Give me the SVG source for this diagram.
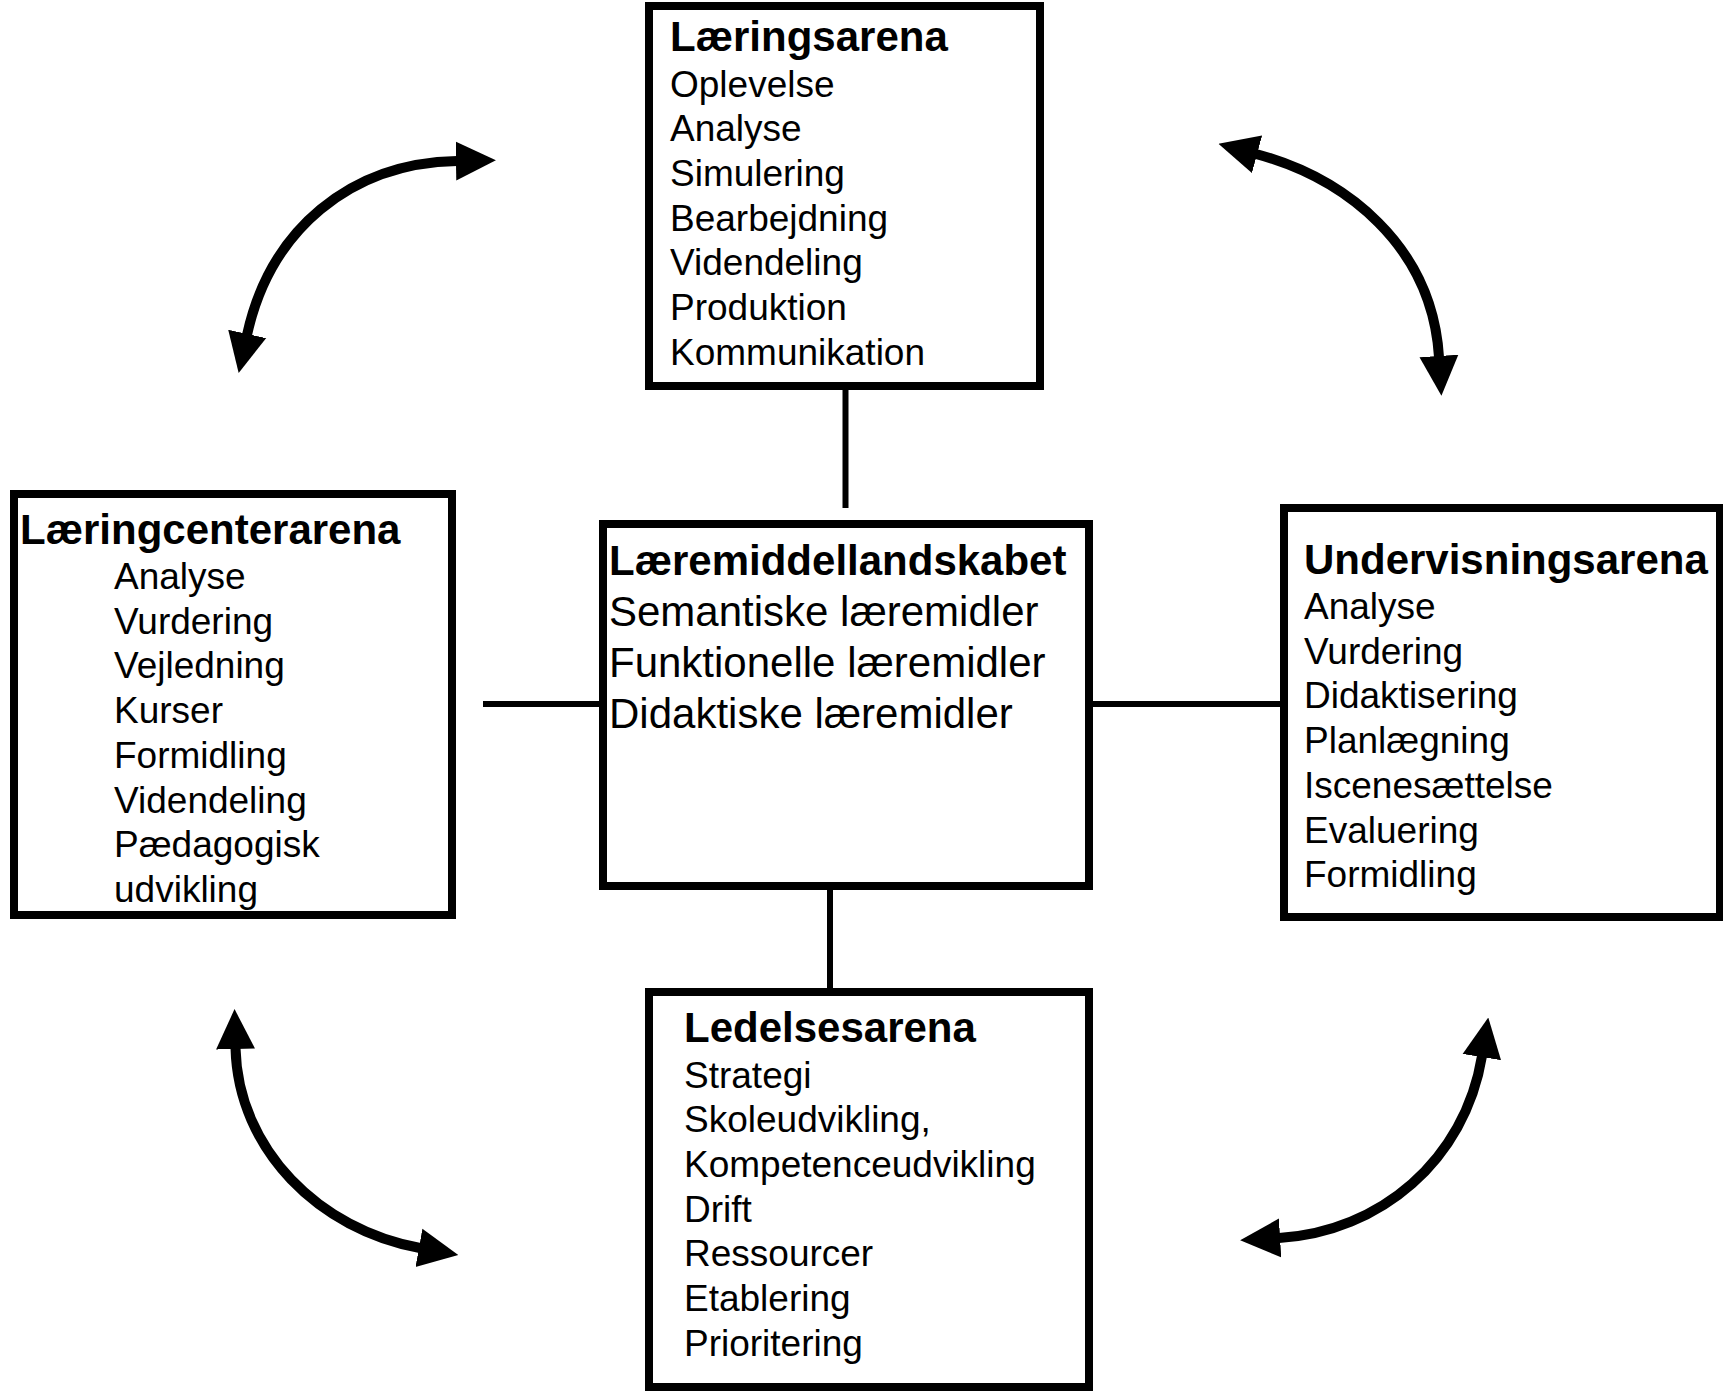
<svg xmlns="http://www.w3.org/2000/svg" width="1723" height="1391" viewBox="0 0 1723 1391">
<style>
.box{fill:#fff;stroke:#000;stroke-width:8}
.t{font-family:"Liberation Sans",Arial,sans-serif;fill:#000}
.h{font-weight:bold;font-size:42px}
.i{font-size:37px}
.c{font-size:42px}
.con{stroke:#000;stroke-width:6;fill:none}
.arr{stroke:#000;stroke-width:10;fill:none;marker-start:url(#head);marker-end:url(#head)}
</style>
<defs>
<marker id="head" markerUnits="userSpaceOnUse" markerWidth="40" markerHeight="40" viewBox="0 0 37 36" refX="1" refY="18" orient="auto-start-reverse">
<path d="M0,0 L37,18 L0,36 z" fill="#000"/>
</marker>
</defs>
<rect width="1723" height="1391" fill="#fff"/>
<g id="connectors">
<line class="con" x1="845.5" y1="388" x2="845.5" y2="508"/>
<line class="con" x1="830" y1="888" x2="830" y2="990"/>
<line class="con" x1="483" y1="704" x2="600" y2="704"/>
<line class="con" x1="1092" y1="704" x2="1281" y2="704"/>
<path class="arr" d="M247,335 C270,230 350,163 457,161"/>
<path class="arr" d="M1256,154 C1345,178 1432,245 1439,357"/>
<path class="arr" d="M235.5,1048 C238,1150 320,1230 420,1248"/>
<path class="arr" d="M1279,1238 C1380,1232 1465,1160 1482,1056"/>
</g>
<g id="laeringsarena">
<rect class="box" x="649" y="6" width="391" height="380"/>
<text class="t h" x="670" y="51">Læringsarena</text>
<text class="t i" x="670" y="96.5">Oplevelse</text>
<text class="t i" x="670" y="141.2">Analyse</text>
<text class="t i" x="670" y="185.9">Simulering</text>
<text class="t i" x="670" y="230.6">Bearbejdning</text>
<text class="t i" x="670" y="275.3">Videndeling</text>
<text class="t i" x="670" y="320">Produktion</text>
<text class="t i" x="670" y="364.7">Kommunikation</text>
</g>
<g id="laeremiddellandskabet">
<rect class="box" x="603" y="524" width="486" height="362"/>
<text class="t h" x="609" y="575">Læremiddellandskabet</text>
<text class="t c" x="609" y="626">Semantiske læremidler</text>
<text class="t c" x="609" y="677">Funktionelle læremidler</text>
<text class="t c" x="609" y="728">Didaktiske læremidler</text>
</g>
<g id="laeringcenterarena">
<rect class="box" x="14" y="494" width="438" height="421"/>
<text class="t h" x="20" y="544">Læringcenterarena</text>
<text class="t i" x="114" y="589">Analyse</text>
<text class="t i" x="114" y="633.7">Vurdering</text>
<text class="t i" x="114" y="678.4">Vejledning</text>
<text class="t i" x="114" y="723.1">Kurser</text>
<text class="t i" x="114" y="767.8">Formidling</text>
<text class="t i" x="114" y="812.5">Videndeling</text>
<text class="t i" x="114" y="857.2">Pædagogisk</text>
<text class="t i" x="114" y="901.9">udvikling</text>
</g>
<g id="undervisningsarena">
<rect class="box" x="1284" y="508" width="436" height="409"/>
<text class="t h" x="1304" y="573.5">Undervisningsarena</text>
<text class="t i" x="1304" y="619">Analyse</text>
<text class="t i" x="1304" y="663.7">Vurdering</text>
<text class="t i" x="1304" y="708.4">Didaktisering</text>
<text class="t i" x="1304" y="753.1">Planlægning</text>
<text class="t i" x="1304" y="797.8">Iscenesættelse</text>
<text class="t i" x="1304" y="842.5">Evaluering</text>
<text class="t i" x="1304" y="887.2">Formidling</text>
</g>
<g id="ledelsesarena">
<rect class="box" x="649" y="992" width="440" height="395"/>
<text class="t h" x="684" y="1042">Ledelsesarena</text>
<text class="t i" x="684" y="1087.5">Strategi</text>
<text class="t i" x="684" y="1132.2">Skoleudvikling,</text>
<text class="t i" x="684" y="1176.9">Kompetenceudvikling</text>
<text class="t i" x="684" y="1221.6">Drift</text>
<text class="t i" x="684" y="1266.3">Ressourcer</text>
<text class="t i" x="684" y="1311">Etablering</text>
<text class="t i" x="684" y="1355.7">Prioritering</text>
</g>
</svg>
